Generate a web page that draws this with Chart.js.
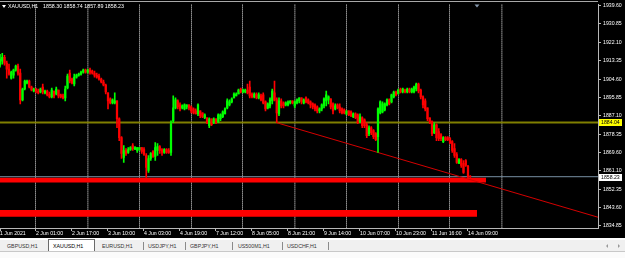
<!DOCTYPE html>
<html><head><meta charset="utf-8">
<script src="https://cdn.jsdelivr.net/npm/chart.js@4.4.1/dist/chart.umd.min.js"></script>
<style>
html,body{margin:0;padding:0;}
body{width:625px;height:258px;background:#000;position:relative;overflow:hidden;font-family:'Liberation Sans',Arial,sans-serif;}
#c{position:absolute;left:0;top:0;width:625px;height:238px;}
#topline{position:absolute;left:0;top:1px;width:598px;height:1px;background:#a8a8a8;}
#hdr{position:absolute;left:0;top:3px;height:7px;width:200px;color:#fff;font-size:5.3px;line-height:7px;white-space:pre;}
#hdr .tri{position:absolute;left:2px;top:2px;width:0;height:0;border-left:2px solid transparent;border-right:2px solid transparent;border-top:3px solid #fff;}
#hdr span{position:absolute;top:0;}
#strip{position:absolute;left:0;top:238px;width:625px;height:2px;background:#ffffff;}
#tabbar{position:absolute;left:0;top:240px;width:625px;height:12px;background:#f0f0f0;border-bottom:1px solid #c8c8c8;box-sizing:border-box;}
#bottom{position:absolute;left:0;top:252px;width:625px;height:6px;background:#fbfbfb;}
.tab{position:absolute;top:3px;font-size:5.3px;line-height:6px;color:#333;white-space:nowrap;}
.sep{position:absolute;top:2px;width:1px;height:8px;background:#8a8a8a;}
#active{position:absolute;left:48px;top:-1px;width:47px;height:12px;background:#fff;border:1px solid #6a6a6a;border-bottom:none;box-sizing:border-box;}
.arr{position:absolute;top:4px;width:0;height:0;border-top:2px solid transparent;border-bottom:2px solid transparent;}
</style></head><body>
<canvas id="c" width="625" height="238"></canvas>
<div id="topline"></div>
<div id="hdr"></div>
<div id="strip"></div>
<div id="tabbar"></div>
<div id="bottom"></div>
<script>
// ---------- data ----------
const symbol = 'XAUUSD,H1';
const opens = [
1911.28,1913.16,1915.05,1912.22,1909.39,1905.14,1906.55,1908.92,1910.80,1907.50,
1894.75,1899.94,1902.78,1903.72,1900.89,1899.00,1899.94,1899.00,1898.53,1900.89,
1898.06,1899.00,1897.58,1896.17,1899.00,1897.58,1899.47,1897.11,1896.64,1895.70,
1900.42,1907.50,1904.67,1902.31,1905.61,1906.55,1907.03,1907.97,1908.92,1907.97,
1908.92,1908.44,1907.50,1906.55,1906.08,1904.67,1903.25,1901.83,1898.06,1895.22,
1893.34,1893.34,1894.28,1885.78,1876.81,1867.37,1870.68,1869.73,1871.15,1873.04,
1871.15,1870.68,1871.15,1872.09,1871.15,1868.31,1861.23,1866.90,1870.20,1867.84,
1870.68,1872.56,1871.15,1869.73,1871.15,1870.68,1869.73,1884.84,1890.98,1894.28,
1892.39,1890.98,1890.50,1891.45,1892.39,1891.45,1890.50,1889.56,1888.14,1889.56,
1888.62,1886.26,1886.26,1882.48,1885.78,1883.89,1885.78,1884.37,1885.78,1886.73,
1888.14,1890.98,1892.39,1893.81,1895.70,1896.64,1897.58,1899.94,1898.53,1898.53,
1899.47,1900.89,1897.58,1896.17,1897.58,1895.70,1896.64,1897.11,1893.81,1890.98,
1891.92,1894.28,1898.06,1894.75,1888.14,1894.28,1893.34,1892.39,1892.39,1893.34,
1894.28,1891.92,1893.34,1894.28,1895.70,1893.34,1895.70,1894.75,1893.81,1892.86,
1892.39,1891.45,1889.56,1890.50,1891.92,1894.28,1894.75,1895.22,1892.86,1890.50,
1892.39,1891.45,1890.50,1890.03,1888.14,1889.56,1889.09,1886.73,1888.14,1887.67,
1884.37,1886.26,1885.31,1882.95,1878.70,1881.53,1880.12,1878.70,1877.29,1888.62,
1889.09,1890.03,1892.39,1894.75,1893.81,1896.17,1898.53,1897.58,1899.94,1898.53,
1899.47,1898.53,1899.94,1898.53,1898.53,1899.94,1902.31,1899.47,1896.17,1894.28,
1890.98,1886.26,1884.37,1879.17,1882.95,1879.65,1878.23,1874.92,1876.81,1876.81,
1876.34,1874.92,1871.62,1868.79,1864.54,1866.43,1864.54,1865.95,1863.12,1858.30];
const highs = [
1916.47,1916.94,1915.99,1913.16,1911.75,1908.44,1909.39,1911.28,1911.75,1909.39,
1900.42,1904.19,1904.19,1904.19,1901.36,1900.42,1900.42,1899.94,1900.42,1902.31,
1899.47,1899.47,1898.53,1900.42,1899.00,1900.89,1899.47,1897.58,1897.58,1901.36,
1907.03,1908.92,1905.14,1907.03,1907.03,1907.50,1908.44,1909.39,1909.39,1909.39,
1909.86,1908.92,1908.44,1907.50,1907.03,1905.14,1904.19,1902.31,1898.06,1895.70,
1895.22,1898.06,1894.28,1886.26,1877.29,1873.04,1871.62,1872.09,1872.56,1873.98,
1872.56,1872.09,1872.09,1872.09,1872.09,1869.26,1868.31,1869.73,1870.68,1874.45,
1873.98,1873.04,1871.62,1871.62,1871.62,1871.62,1884.84,1896.64,1895.70,1894.75,
1893.34,1892.39,1892.86,1892.39,1892.39,1891.92,1890.98,1890.50,1892.86,1889.56,
1888.62,1888.14,1886.26,1886.26,1885.78,1886.26,1885.78,1888.14,1888.14,1889.56,
1890.98,1895.22,1894.75,1895.70,1898.06,1898.06,1899.94,1900.42,1899.94,1899.94,
1902.31,1903.72,1898.06,1898.06,1898.06,1898.06,1897.58,1898.06,1894.28,1893.34,
1895.70,1899.94,1903.72,1895.70,1895.70,1895.22,1893.81,1893.81,1894.28,1894.28,
1894.28,1894.28,1895.22,1895.70,1895.70,1895.22,1896.17,1895.22,1894.28,1893.34,
1892.86,1891.92,1890.98,1892.86,1895.70,1899.00,1896.64,1895.22,1893.34,1892.86,
1892.86,1892.86,1890.98,1890.50,1889.56,1889.56,1889.56,1888.62,1888.62,1888.14,
1888.14,1886.73,1885.78,1883.89,1882.48,1882.01,1880.59,1879.17,1890.98,1894.28,
1893.81,1893.34,1895.22,1895.22,1897.58,1899.00,1899.00,1899.94,1900.42,1900.42,
1899.94,1900.42,1900.42,1900.42,1901.36,1902.78,1902.78,1899.94,1896.64,1895.22,
1890.98,1886.26,1884.84,1883.89,1883.42,1881.06,1878.70,1877.29,1877.29,1877.29,
1876.81,1875.40,1873.98,1869.73,1866.90,1866.90,1865.95,1866.43,1863.59,1858.74];
const lows = [
1910.33,1911.75,1911.28,1905.14,1906.55,1904.67,1905.14,1908.44,1906.55,1892.86,
1894.28,1899.47,1902.31,1900.42,1899.00,1898.53,1898.06,1897.58,1898.06,1897.58,
1897.58,1896.64,1895.70,1895.70,1895.70,1897.11,1895.70,1895.70,1895.22,1894.28,
1899.94,1902.78,1902.31,1901.36,1905.14,1906.08,1906.55,1907.50,1907.50,1907.50,
1907.03,1907.03,1905.61,1905.14,1904.19,1902.78,1901.36,1897.58,1890.50,1892.86,
1892.86,1892.86,1881.53,1875.40,1866.90,1865.01,1868.31,1869.26,1870.68,1870.68,
1871.15,1869.73,1870.68,1869.26,1868.31,1857.93,1860.29,1865.95,1867.37,1865.95,
1868.31,1869.26,1868.31,1869.26,1869.26,1869.26,1868.31,1883.89,1890.50,1890.50,
1889.56,1890.50,1890.03,1890.50,1890.03,1888.62,1888.14,1888.14,1887.20,1886.26,
1886.26,1885.78,1883.42,1881.53,1882.48,1883.42,1883.42,1883.89,1884.84,1886.26,
1888.14,1890.50,1891.92,1893.34,1895.70,1896.64,1897.58,1898.06,1898.06,1898.06,
1897.58,1895.70,1895.70,1895.70,1895.22,1895.22,1894.28,1892.86,1889.56,1890.50,
1890.98,1892.86,1894.28,1883.89,1887.20,1890.98,1890.98,1891.92,1891.92,1892.86,
1892.86,1890.98,1892.86,1893.34,1892.86,1892.86,1893.34,1892.86,1890.98,1890.50,
1889.56,1888.62,1888.62,1889.56,1890.98,1891.92,1892.86,1890.50,1888.14,1890.03,
1890.50,1888.62,1888.14,1888.14,1887.67,1887.20,1886.73,1886.26,1885.78,1883.42,
1883.89,1881.53,1881.53,1876.81,1877.76,1878.23,1876.34,1875.40,1869.73,1888.14,
1888.62,1889.56,1891.92,1892.39,1893.34,1895.70,1896.64,1897.58,1898.06,1898.06,
1898.06,1898.06,1898.06,1898.06,1898.06,1899.00,1898.06,1895.22,1890.98,1889.56,
1884.84,1883.42,1877.76,1878.70,1875.40,1875.40,1875.40,1874.45,1875.40,1875.40,
1873.98,1869.73,1867.37,1864.54,1864.54,1862.65,1859.82,1863.12,1857.45,1857.89];
const closes = [
1914.11,1915.05,1912.22,1909.39,1907.03,1907.97,1908.92,1910.80,1907.50,1894.75,
1899.94,1903.72,1903.72,1900.89,1899.47,1899.94,1899.00,1898.06,1899.94,1898.53,
1899.00,1897.11,1896.17,1899.47,1896.64,1899.94,1896.64,1896.17,1895.70,1899.94,
1906.08,1903.72,1902.78,1905.61,1906.55,1907.03,1907.97,1908.92,1907.97,1908.92,
1907.97,1907.50,1906.55,1905.61,1904.67,1903.25,1901.83,1898.53,1894.28,1893.34,
1894.75,1894.28,1885.78,1876.81,1869.26,1870.68,1869.26,1871.15,1872.09,1871.62,
1872.09,1872.09,1872.09,1870.20,1868.79,1862.65,1866.90,1869.26,1867.84,1872.09,
1872.56,1870.68,1869.73,1871.15,1869.73,1869.73,1883.42,1890.98,1894.75,1891.45,
1890.50,1891.92,1892.39,1892.39,1890.98,1889.56,1888.62,1888.14,1892.39,1887.20,
1886.73,1887.67,1883.89,1885.78,1882.95,1885.78,1883.89,1887.67,1887.67,1889.09,
1890.50,1894.28,1893.81,1895.22,1897.58,1897.58,1899.47,1898.53,1899.47,1899.47,
1898.06,1896.64,1896.17,1897.58,1895.70,1897.11,1894.75,1893.34,1890.50,1892.86,
1894.75,1899.00,1894.75,1888.62,1894.28,1891.92,1891.92,1893.34,1893.81,1894.28,
1893.34,1893.81,1894.75,1895.70,1893.81,1894.75,1893.81,1893.34,1892.39,1891.45,
1890.50,1889.56,1890.50,1892.39,1895.22,1897.11,1896.17,1891.45,1889.56,1891.92,
1890.98,1889.56,1888.62,1888.62,1889.56,1887.67,1887.20,1888.14,1886.26,1883.89,
1886.73,1882.48,1882.48,1877.76,1881.53,1879.17,1877.29,1875.87,1890.50,1893.81,
1892.86,1892.86,1894.75,1892.86,1897.11,1898.53,1897.11,1899.47,1898.53,1899.94,
1898.53,1899.94,1898.53,1899.94,1900.89,1902.31,1899.00,1896.17,1892.39,1890.50,
1885.78,1884.37,1878.70,1882.95,1876.81,1876.34,1876.34,1876.81,1875.87,1875.87,
1874.45,1870.68,1868.31,1865.01,1866.43,1863.59,1860.29,1863.59,1858.40,1858.23];

const xTickBars = [0,16,32,48,64,80,96,112,128,144,160,176,192,208];
const xTickLabels = ['1 Jun 2021','2 Jun 01:00','2 Jun 17:00','3 Jun 10:00','4 Jun 03:00','4 Jun 19:00','7 Jun 12:00','8 Jun 05:00','8 Jun 21:00','9 Jun 14:00','10 Jun 07:00','10 Jun 23:00','11 Jun 16:00','14 Jun 09:00'];
const separatorBars = [16,39,62,85,108,131,154,177,200,223];
const yTickLabels = ['1939.60','1930.85','1922.10','1913.35','1904.60','1895.85','1887.10','1878.35','1869.60','1861.10','1852.35','1843.60','1834.85'];
const yTickValues = yTickLabels.map(Number);
const levelPrice = 1884.04;
const bidPrice = 1858.23;
const trendBars = [123, 266];
const trendPrices = [1883.89, 1838.89];
const zoneStartBars = [-3, -3];
const zoneEndBars = [216, 212];
const zoneTops = [1857.79, 1842.35];
const zoneBottoms = [1855.43, 1839.19];
const shiftBar = 212;
const tabNames = ['GBPUSD,H1','XAUUSD,H1','EURUSD,H1','USDJPY,H1','GBPJPY,H1','US500M1,H1','USDCHF,H1'];
const activeTab = 1;

// ---------- view ----------
const fontFam = "'Liberation Sans', Arial, sans-serif";
const X_MIN = 0, X_MAX = 265.78;
const Y_MIN = 1833.84, Y_MAX = 1940.07;
const idx = opens.map((_, i) => i);
const candleColors = idx.map(i => closes[i] >= opens[i] ? '#00ff00' : '#ff0000');

const datasets = [
  {type:'bar', label:'body', xAxisID:'x', yAxisID:'y', data: idx.map(i => ({x:i, y:[opens[i], closes[i]]})),
   backgroundColor: candleColors, barThickness: 1.6, grouped:false, order:0},
  {type:'bar', label:'wick', xAxisID:'x', yAxisID:'y', data: idx.map(i => ({x:i, y:[lows[i], highs[i]]})),
   backgroundColor: candleColors, barThickness: 1, grouped:false, order:1},
  {type:'line', label:'trend', xAxisID:'x', yAxisID:'y', data: trendBars.map((b,k) => ({x:b, y:trendPrices[k]})),
   borderColor:'#d40000', borderWidth:1, pointRadius:0, fill:false, clip:0, order:2},
  {type:'line', label:'level', xAxisID:'x', yAxisID:'y', data: [{x:X_MIN-3, y:levelPrice},{x:X_MAX+3, y:levelPrice}],
   borderColor:'#807f00', borderWidth:2, pointRadius:0, fill:false, clip:0, order:3},
  {type:'line', label:'bid', xAxisID:'x', yAxisID:'y', data: [{x:X_MIN-3, y:bidPrice},{x:X_MAX+3, y:bidPrice}],
   borderColor:'#7890a4', borderWidth:1, pointRadius:0, fill:false, clip:0, order:4}
];
zoneTops.forEach((t, k) => {
  datasets.push({type:'line', label:'zoneTop'+k, xAxisID:'x', yAxisID:'y',
    data:[{x:zoneStartBars[k], y:t},{x:zoneEndBars[k], y:t}],
    borderColor:'transparent', borderWidth:0, pointRadius:0, fill:'+1', backgroundColor:'#ff0000', clip:0, order:5+2*k});
  datasets.push({type:'line', label:'zoneBottom'+k, xAxisID:'x', yAxisID:'y',
    data:[{x:zoneStartBars[k], y:zoneBottoms[k]},{x:zoneEndBars[k], y:zoneBottoms[k]}],
    borderColor:'transparent', borderWidth:0, pointRadius:0, fill:false, clip:0, order:6+2*k});
});

const priceTags = [{price: levelPrice, bg:'#ffff00'}, {price: bidPrice, bg:'#ffffff'}];

const overlay = {
  id:'overlay',
  afterDraw(chart) {
    const {ctx, chartArea:a, scales:{x, y}} = chart;
    ctx.save();
    ctx.font = '5.2px ' + fontFam;
    ctx.textBaseline = 'middle';
    ctx.textAlign = 'left';
    priceTags.forEach(t => {
      const py = Math.round(y.getPixelForValue(t.price));
      ctx.fillStyle = t.bg;
      ctx.fillRect(a.right + 1, py - 3, 23, 7);
      ctx.fillStyle = '#000';
      ctx.fillText(t.price.toFixed(2), a.right + 3, py + 0.5);
    });
    const sx = x.getPixelForValue(shiftBar);
    ctx.fillStyle = '#8496aa';
    ctx.beginPath();
    ctx.moveTo(sx - 2.5, a.top); ctx.lineTo(sx + 2.5, a.top); ctx.lineTo(sx, a.top + 3);
    ctx.closePath(); ctx.fill();
    ctx.restore();
  }
};

new Chart(document.getElementById('c'), {
  type:'bar',
  data:{datasets},
  options:{
    responsive:false, animation:false, devicePixelRatio:1, events:[],
    layout:{padding:{top:3, left:0, right:0, bottom:0}},
    plugins:{legend:{display:false}, tooltip:{enabled:false}, title:{display:false}},
    scales:{
      x:{type:'linear', axis:'x', position:'bottom', min:X_MIN, max:X_MAX, offset:false, weight:0,
        afterBuildTicks: s => { s.ticks = xTickBars.map(v => ({value:v})); },
        afterFit: s => { s.height = 10; },
        grid:{display:true, drawOnChartArea:false, drawTicks:true, tickLength:3, color:'#b8b8b8', offset:false},
        border:{display:true, color:'#b8b8b8', width:1},
        ticks:{autoSkip:false, maxRotation:0, minRotation:0, align:'start', padding:0, color:'#ffffff',
          font:{family:fontFam, size:5.2, lineHeight:1}, callback:(v, i) => xTickLabels[i]}},
      xs:{type:'linear', axis:'x', position:'bottom', min:X_MIN, max:X_MAX, offset:false, weight:1,
        afterBuildTicks: s => { s.ticks = separatorBars.map(v => ({value:v})); },
        afterFit: s => { s.height = 0; },
        grid:{display:true, drawOnChartArea:true, drawTicks:false, offset:false,
          color: c => (c.tick && (c.tick.value - 39) % 92 === 0) ? '#9a9a9a' : '#e8e8e8',
          lineWidth: c => (c.tick && (c.tick.value - 39) % 92 === 0) ? 1.6 : 1},
        border:{display:false, dash:[1,1]},
        ticks:{display:false}},
      y:{type:'linear', position:'right', min:Y_MIN, max:Y_MAX,
        afterBuildTicks: s => { s.ticks = yTickValues.map(v => ({value:v})); },
        afterFit: s => { s.width = 27; },
        grid:{drawOnChartArea:false, drawTicks:true, tickLength:3, color:'#b8b8b8'},
        border:{display:true, color:'#b8b8b8'},
        ticks:{padding:2, color:'#ffffff', font:{family:fontFam, size:5.2, lineHeight:1},
          callback:(v, i) => yTickLabels[i]}}
    }
  },
  plugins:[overlay]
});

// ---------- header & tabs ----------
const last = opens.length - 1;
const hdr = document.getElementById('hdr');
hdr.innerHTML = '<div class="tri"></div>';
const s1 = document.createElement('span'); s1.style.left = '8px'; s1.textContent = symbol; hdr.appendChild(s1);
const s2 = document.createElement('span'); s2.style.left = '43px';
s2.textContent = [opens[last], highs[last], lows[last], closes[last]].map(v => v.toFixed(2)).join(' ');
hdr.appendChild(s2);

const tabLefts = [7, 53, 102, 148, 190, 238, 287];
const sepLefts = [143, 185, 232, 282, 328];
const bar = document.getElementById('tabbar');
const act = document.createElement('div'); act.id = 'active'; bar.appendChild(act);
tabNames.forEach((n, i) => {
  const d = document.createElement('div'); d.className = 'tab'; d.style.left = tabLefts[i] + 'px';
  if (i === activeTab) d.style.color = '#000';
  d.textContent = n; bar.appendChild(d);
});
sepLefts.forEach(l => { const d = document.createElement('div'); d.className = 'sep'; d.style.left = l + 'px'; bar.appendChild(d); });
const a1 = document.createElement('div'); a1.className = 'arr'; a1.style.left = '606px'; a1.style.borderRight = '2px solid #999'; bar.appendChild(a1);
const a2 = document.createElement('div'); a2.className = 'arr'; a2.style.left = '618px'; a2.style.borderLeft = '2px solid #999'; bar.appendChild(a2);
</script>
</body></html>
